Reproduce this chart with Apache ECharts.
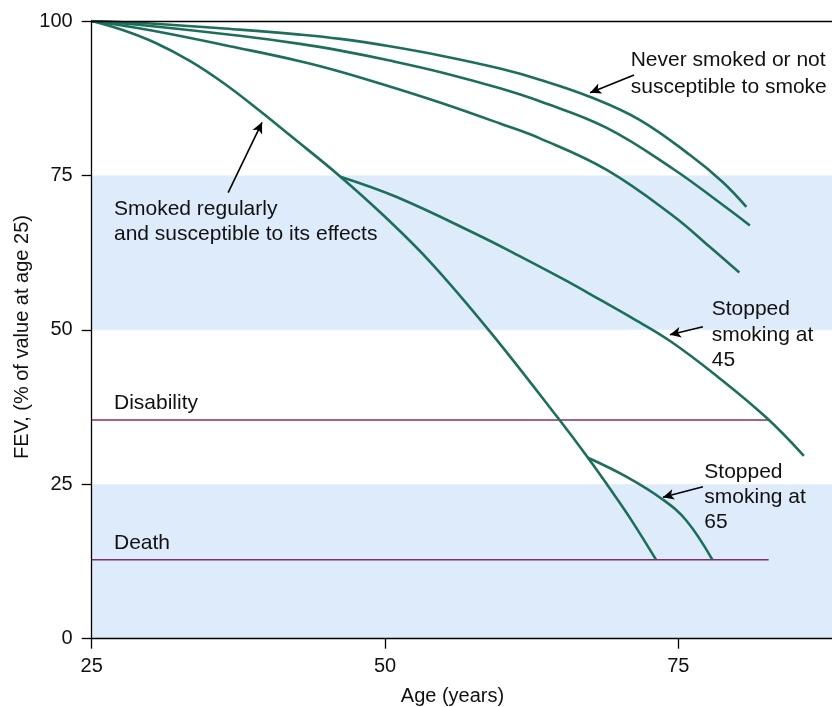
<!DOCTYPE html>
<html>
<head>
<meta charset="utf-8">
<script src="https://cdn.jsdelivr.net/npm/echarts@6/dist/echarts.min.js"></script>
<style>html,body{margin:0;padding:0;background:#fff;overflow:hidden}#c{width:832px;height:707px}</style>
</head>
<body>
<div id="c"></div>
<script>
// ---- Data (age in years, FEV % of value at age 25) ----
const xTicks = [25, 50, 75];
const yTicks = [0, 25, 50, 75, 100];
const neverSmoked = [[25,100],[30,99.6],[37.6,98.6],[42.75,97.8],[46.2,97.1],[50.4,95.9],[55,94.3],[59.8,92.3],[63.2,90.5],[67.5,87.7],[71.7,84.0],[76,78.3],[78.8,73.9],[80.8,69.9]];
const curve2 = [[25,100],[30,99.2],[37.6,97.6],[42.75,96.3],[46.2,95.2],[50.4,93.6],[55,91.6],[59.8,89.1],[63.2,87.0],[68.9,82.7],[74.6,76.0],[78.8,70.2],[81.1,66.9]];
const curve3 = [[25,100],[30,98.5],[37.6,95.6],[42.75,93.5],[46.2,91.8],[50.4,89.4],[55,86.6],[59.8,83.4],[63.2,81.0],[68.9,75.9],[74.6,68.4],[77.7,63.4],[80.2,59.3]];
const smokedSusceptible = [[25,100],[27.7,98.5],[30.5,96.4],[33.4,93.5],[36.2,90.0],[39.1,85.8],[41.9,81.5],[46.2,74.8],[50,68.3],[54,60.7],[59,49.6],[64.8,35.6],[67.3,29.3],[69.5,23.4],[71,19.2],[73.1,12.8]];
const stopped45 = [[46.2,74.8],[51,71.5],[58.1,65.2],[60.9,62.5],[65.2,58.2],[68.4,54.8],[70.9,52.1],[74.3,48.2],[78.3,42.5],[82.5,35.8],[85.7,29.6]];
const stopped65 = [[67.3,29.3],[70.6,26.2],[73.7,22.5],[75.7,19.1],[77.9,12.8]];
const disability = [[25,35.4],[82.7,35.4]];
const death = [[25,12.8],[82.7,12.8]];
const bands = [[50,75],[0,25]];
// arrows: [fromAge, fromFEV, toAge, toFEV]
const arrows = [[71.23,91.25,67.48,88.4],[36.63,72.2,39.52,83.6],[77.1,50.5,74.28,49.2],[77.1,24.6,73.69,22.9]];

const FONT = "'Liberation Sans', Arial, Helvetica, sans-serif";
const GREEN = '#1d6e5a';
const PURPLE = '#7d2f72';
const TXT = '#111';

function curve(name, data) {
  return {name, type:'line', data, smooth:0.4, showSymbol:false, symbol:'none', z:4,
    lineStyle:{color:GREEN, width:2.6}, silent:true};
}
function hline(name, data, extra) {
  return Object.assign({name, type:'line', data, showSymbol:false, symbol:'none', z:3,
    lineStyle:{color:PURPLE, width:1.5}, silent:true}, extra || {});
}

const chart = echarts.init(document.getElementById('c'), null, {renderer:'canvas'});

const texts = [
  ['Never smoked or not', 630.7, 60.5],
  ['susceptible to smoke', 630.7, 86.8],
  ['Smoked regularly', 114, 209.5],
  ['and susceptible to its effects', 114, 234.5],
  ['Stopped', 711.7, 309.5],
  ['smoking at', 711.7, 334.8],
  ['45', 711.7, 360.2],
  ['Stopped', 704.3, 472],
  ['smoking at', 704.3, 497.6],
  ['65', 704.3, 522.2],
  ['Disability', 114, 402.8],
  ['Death', 114, 543.4]
];

const graphic = texts.map(t => ({
  type:'text', x:t[1], y:t[2], silent:true, z:20,
  style:{text:t[0], font:'21px ' + FONT, fill:TXT, textAlign:'left', textVerticalAlign:'middle', align:'left', verticalAlign:'middle'}
}));
graphic.push({
  type:'text', x:452.5, y:696.5, silent:true, z:20,
  style:{text:'Age (years)', font:'20px ' + FONT, fill:TXT, textAlign:'center', textVerticalAlign:'middle', align:'center', verticalAlign:'middle'}
});
graphic.push({
  type:'text', x:22.5, y:337, rotation:Math.PI/2, silent:true, z:20,
  style:{text:'FEV, (% of value at age 25)', font:'20px ' + FONT, fill:TXT, textAlign:'center', textVerticalAlign:'middle', align:'center', verticalAlign:'middle'}
});

const axisLineStyle = {color:'#000', width:1.3};
const option = {
  animation:false,
  backgroundColor:'#ffffff',
  grid:{left:91.7, right:0, top:21, bottom:68.3},
  xAxis:[
    {type:'value', min:25, max:88.1, interval:25, z:10,
      axisLine:{show:true, lineStyle:axisLineStyle},
      axisTick:{show:true, length:10, lineStyle:axisLineStyle, customValues:xTicks},
      axisLabel:{fontSize:20, fontFamily:FONT, color:TXT, margin:18, customValues:xTicks,
        formatter:v => (xTicks.indexOf(v) >= 0 ? String(v) : '')},
      splitLine:{show:false}},
    {type:'value', position:'top', min:25, max:88.1, z:10,
      axisLine:{show:true, lineStyle:axisLineStyle},
      axisTick:{show:false}, axisLabel:{show:false}, splitLine:{show:false}}
  ],
  yAxis:{type:'value', min:0, max:100, interval:25, z:10,
    axisLine:{show:true, lineStyle:axisLineStyle},
    axisTick:{show:true, length:10, lineStyle:axisLineStyle},
    axisLabel:{fontSize:20, fontFamily:FONT, color:TXT, margin:19},
    splitLine:{show:false}},
  graphic,
  series:[
    hline('Disability', disability, {
      markArea:{silent:true, z:1, itemStyle:{color:'#deebfa', borderWidth:0},
        data:bands.map(b => [{yAxis:b[0]}, {yAxis:b[1]}])},
      markLine:{silent:true, symbol:['none','arrow'], symbolSize:[8,11], label:{show:false},
        lineStyle:{color:'#000', width:1.6, type:'solid'},
        emphasis:{disabled:true},
        data:arrows.map(a => [{coord:[a[0],a[1]]},{coord:[a[2],a[3]]}])}
    }),
    hline('Death', death),
    curve('Never smoked or not susceptible to smoke', neverSmoked),
    curve('Curve 2', curve2),
    curve('Curve 3', curve3),
    curve('Smoked regularly and susceptible to its effects', smokedSusceptible),
    curve('Stopped smoking at 45', stopped45),
    curve('Stopped smoking at 65', stopped65)
  ]
};
chart.setOption(option);
</script>
</body>
</html>
